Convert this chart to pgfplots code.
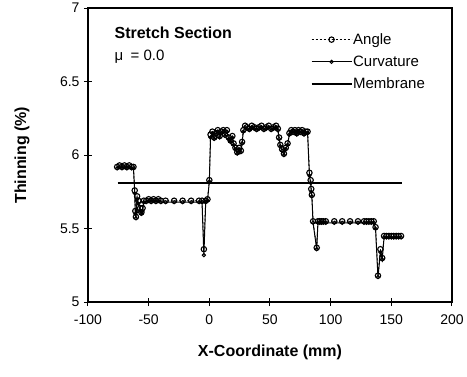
\documentclass[border=0pt]{standalone}
\usepackage{fontspec}
\setmainfont{Liberation Sans}
\usepackage{pgfplots}
\usepackage{pgfplotstable}
\pgfplotsset{compat=1.18}

\pgfplotstableread{
x y
-76 5.92
-74 5.93
-72 5.92
-70 5.93
-68 5.92
-66 5.93
-64 5.92
-62.5 5.92
-61.5 5.76
-61 5.62
-60.5 5.58
-59.5 5.72
-58.5 5.69
-57 5.64
-56 5.61
-55 5.64
-54 5.69
-52 5.69
-50 5.70
-48 5.69
-46 5.70
-44 5.69
-42 5.70
-40 5.69
-36 5.69
-29 5.69
-22 5.69
-15 5.69
-8.5 5.69
-6 5.69
-4.5 5.36
-3 5.69
-1.5 5.70
0 5.83
1 6.14
2.5 6.16
4 6.12
5.5 6.15
7 6.17
8.5 6.13
10 6.16
11.5 6.17
13 6.14
14.5 6.17
16 6.12
17.5 6.10
19 6.13
20 6.08
21.5 6.05
23 6.02
24.5 6.05
26 6.03
27 6.09
28 6.17
29.5 6.20
31 6.19
33 6.18
35 6.20
37 6.19
39 6.18
41 6.19
43 6.20
45 6.18
47 6.19
49 6.20
51 6.18
53 6.19
55 6.20
56.5 6.18
57.5 6.12
58.5 6.07
60 6.04
61.5 6.01
63 6.05
64.5 6.08
66 6.15
67.5 6.17
69 6.16
70.5 6.17
72 6.15
73.5 6.17
75 6.16
76.5 6.17
78 6.15
79.5 6.16
81 6.16
82.5 5.88
83.5 5.83
84 5.77
84.5 5.73
85.5 5.55
88.5 5.37
89.5 5.55
91 5.55
92.5 5.55
94 5.55
96 5.55
103 5.55
109.5 5.55
116 5.55
122.5 5.55
127.5 5.55
129.5 5.55
131.5 5.55
133.5 5.55
135.5 5.55
137 5.51
139 5.18
141 5.36
142.5 5.30
144 5.45
146 5.45
148 5.45
150 5.45
152 5.45
154 5.45
156 5.45
158 5.45
}\angledata

\pgfplotstableread{
x y
-76 5.91
-74 5.92
-72 5.91
-70 5.92
-68 5.91
-66 5.92
-64 5.91
-62.5 5.91
-61.5 5.74
-61 5.60
-60.5 5.57
-59.5 5.70
-58.5 5.67
-57 5.62
-56 5.60
-55 5.62
-54 5.68
-52 5.68
-50 5.69
-48 5.68
-46 5.69
-44 5.68
-42 5.69
-40 5.68
-36 5.68
-29 5.68
-22 5.68
-15 5.68
-8.5 5.68
-6 5.68
-4.5 5.32
-3 5.68
-1.5 5.69
0 5.82
1 6.12
2.5 6.15
4 6.11
5.5 6.14
7 6.16
8.5 6.12
10 6.15
11.5 6.16
13 6.13
14.5 6.16
16 6.11
17.5 6.09
19 6.12
20 6.07
21.5 6.04
23 6.01
24.5 6.04
26 6.02
27 6.08
28 6.16
29.5 6.19
31 6.18
33 6.17
35 6.19
37 6.18
39 6.17
41 6.18
43 6.19
45 6.17
47 6.18
49 6.19
51 6.17
53 6.18
55 6.19
56.5 6.17
57.5 6.11
58.5 6.06
60 6.03
61.5 6.00
63 6.04
64.5 6.07
66 6.14
67.5 6.16
69 6.15
70.5 6.16
72 6.14
73.5 6.16
75 6.15
76.5 6.16
78 6.14
79.5 6.15
81 6.15
82.5 5.86
83.5 5.81
84 5.75
84.5 5.72
85.5 5.54
88.5 5.36
89.5 5.54
91 5.54
92.5 5.54
94 5.54
96 5.54
103 5.54
109.5 5.54
116 5.54
122.5 5.54
127.5 5.54
129.5 5.54
131.5 5.54
133.5 5.54
135.5 5.54
137 5.50
139 5.17
141 5.34
142.5 5.29
144 5.44
146 5.44
148 5.44
150 5.44
152 5.44
154 5.44
156 5.44
158 5.44
}\curvdata

\pgfplotstableread{
x y
-75.5 5.81
158.5 5.81
}\membdata

\begin{document}
\begin{tikzpicture}
\begin{axis}[
  scale only axis,
  width=364pt, height=294pt,
  xmin=-100, xmax=200, ymin=5, ymax=7,
  xtick={-100,-50,0,50,100,150,200},
  ytick={5,5.5,6,6.5,7},
  xtick pos=bottom, ytick pos=left,
  tick align=center,
  major tick length=8pt,
  axis line style={line width=1.3pt},
  tick style={line width=1pt, black},
  /pgf/number format/assume math mode=true,
  ticklabel style={font=\fontsize{14}{16}\selectfont},
  xticklabel style={yshift=-5pt},
  yticklabel style={xshift=-1pt},
  xlabel={\textbf{X-Coordinate (mm)}},
  ylabel={\textbf{Thinning (\%)}},
  label style={font=\fontsize{16}{18}\selectfont},
  xlabel style={at={(axis description cs:0.5,-0.170)}, anchor=center},
  ylabel style={at={(axis description cs:-0.181,0.5)}, anchor=center},
  legend style={at={(rel axis cs:0.612,0.918)}, anchor=north west, draw=none, fill=none,
    font=\fontsize{15}{17}\selectfont, row sep=8pt, inner sep=0pt,
    nodes={inner sep=1pt}},
  legend cell align=left,
  legend image code/.code={\draw[mark repeat=2,mark phase=2,#1] plot coordinates {(0pt,0pt)(20pt,0pt)(40pt,0pt)};},
  clip=false,
]
\addplot[black, line width=0.8pt, dash pattern=on 2pt off 2pt, mark=o, mark size=2.7pt,
  mark options={solid, line width=1.1pt, fill=white}] table {\angledata};
\addlegendentry{Angle}
\addplot[black, line width=1pt, mark=o, mark size=1.6pt,
  mark options={solid, line width=1pt, fill=white}] table {\curvdata};
\addlegendentry{Curvature}
\addplot[black, line width=1.2pt, no marks] table {\membdata};
\addlegendentry{Membrane}
\node[anchor=west, font=\fontsize{16}{18}\selectfont\bfseries] at (axis cs:-81,6.83) {Stretch Section};
\node[anchor=west, font=\fontsize{15}{17}\selectfont] at (axis cs:-81,6.667) {μ\enspace= 0.0};
\end{axis}
\path (current axis.south west) ++(-88pt,-74pt) rectangle ++(467pt,376pt);
\end{tikzpicture}
\end{document}
